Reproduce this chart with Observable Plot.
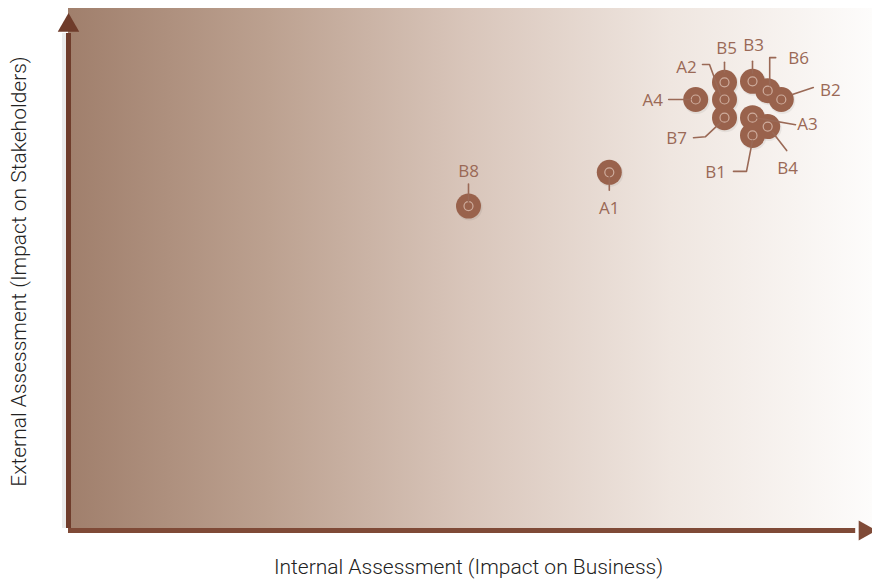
<!DOCTYPE html>
<html><head><meta charset="utf-8">
<script src="https://cdn.jsdelivr.net/npm/d3@7"></script>
<script src="https://cdn.jsdelivr.net/npm/@observablehq/plot@0.6"></script>
<style>body{margin:0;background:#fff} #chart svg{display:block}</style>
</head><body><div id="chart"></div>
<script>
// ---- data ----
const names    = ["B8", "A1", "A4", "A2", "B5", "B7", "B3", "B6", "B2", "A3", "B4", "B1"];
const internal = [5.0, 6.76, 7.84, 8.2, 8.2, 8.2, 8.55, 8.74, 8.91, 8.55, 8.74, 8.55];
const external = [6.2, 6.85, 8.25, 8.25, 8.58, 7.9, 8.6, 8.42, 8.25, 7.9, 7.73, 7.56];
const xLabel = "Internal Assessment (Impact on Business)";
const yLabel = "External Assessment (Impact on Stakeholders)";

// ---- label layout (pixel offsets from each bubble) ----
const labelLayout = {
  B8: {dx: 0,   dy: -35, leader: [[0, -22], [0, -4]]},
  A1: {dx: 0,   dy: 36,  leader: [[0, 4], [0, 18]]},
  A4: {dx: -43, dy: 1,   leader: [[-27, 0], [-5, 0]]},
  A2: {dx: -38, dy: -32, leader: [[-22, -35], [-15, -35], [-4, -5]]},
  B5: {dx: 2,   dy: -34, leader: [[0, -20], [0, -10]]},
  B7: {dx: -48, dy: 21,  leader: [[-31, 20], [-19, 19], [-4, 5]]},
  B3: {dx: 1,   dy: -36, leader: [[0, -20], [0, -8]]},
  B6: {dx: 31,  dy: -32, leader: [[8, -33], [2, -33], [2, -5]]},
  B2: {dx: 49,  dy: -9,  leader: [[32, -12], [11, -5]]},
  A3: {dx: 55,  dy: 7,   leader: [[3, 0], [43, 7]]},
  B4: {dx: 20,  dy: 42,  leader: [[5, 6], [19, 24]]},
  B1: {dx: -37, dy: 37,  leader: [[-19, 36], [-6, 36], [0, 5]]}
};

const W = 872, H = 584, mL = 68, mR = 4, mT = 8, mB = 56;
const xs = d3.scaleLinear([0, 10], [mL, W - mR]);
const ys = d3.scaleLinear([0, 10], [H - mB, mT]);

const points = names.map((n, i) => ({name: n, x: internal[i], y: external[i]}));
const labels = points.map(p => {
  const L = labelLayout[p.name];
  return {name: p.name, x: xs.invert(xs(p.x) + L.dx), y: ys.invert(ys(p.y) + L.dy)};
});
const leaders = points.flatMap(p => labelLayout[p.name].leader.map(([dx, dy]) => ({
  name: p.name, x: xs.invert(xs(p.x) + dx), y: ys.invert(ys(p.y) + dy)
})));

const axisColor = "#6f3c2b";
const xAxisColor = "#7f4a37";
const bubbleColor = "#99624c";
const labelColor = "#9a6956";

const chart = Plot.plot({
  width: W, height: H,
  marginLeft: mL, marginRight: mR, marginTop: mT, marginBottom: mB,
  x: {domain: [0, 10], axis: null},
  y: {domain: [0, 10], axis: null},
  style: {background: "#fff"},
  marks: [
    Plot.rect([0], {x1: 0, x2: xs.invert(W), y1: 0, y2: 10, fill: "url(#bgGrad)"}),
    // axes with soft shadow
    Plot.ruleX([0], {y1: 0, y2: 9.52, stroke: "#000", strokeOpacity: 0.08, strokeWidth: 9, dx: -2}),
    Plot.ruleX([0], {y1: 0, y2: 9.52, stroke: axisColor, strokeWidth: 5}),
    Plot.dot([0], {frameAnchor: "top-left", symbol: "triangle", r: 8, fill: axisColor, dy: 17}),
    Plot.ruleY([0], {x1: 0, x2: 9.84, stroke: xAxisColor, strokeWidth: 5, dy: 2}),
    Plot.dot([0], {frameAnchor: "bottom-right", symbol: "triangle", r: 7.5, rotate: 90, fill: xAxisColor, dx: -4, dy: 2}),
    // bubbles
    Plot.dot(points, {x: "x", y: "y", r: 13, fill: "#000", fillOpacity: 0.06, dx: 1, dy: 1.5}),
    Plot.dot(points, {x: "x", y: "y", r: 12.5, fill: bubbleColor, stroke: "none"}),
    Plot.dot(points, {x: "x", y: "y", r: 4.5, fill: "none", stroke: "#dcbfb2", strokeWidth: 1.2, strokeOpacity: 0.8}),
    // leaders and labels
    Plot.line(leaders, {x: "x", y: "y", z: "name", stroke: labelColor, strokeWidth: 1.6, curve: "linear"}),
    Plot.text(labels, {x: "x", y: "y", text: "name", fill: labelColor, fontSize: 17, fontWeight: 500, fontFamily: "'Open Sans', Lato, sans-serif", textAnchor: "middle", lineAnchor: "middle"}),
    // axis titles
    Plot.text([xLabel], {text: d => d, frameAnchor: "bottom", dy: 45, fontSize: 21, fill: "#222", fontFamily: "Roboto, 'Liberation Sans', sans-serif", fontWeight: 300, textAnchor: "middle"}),
    Plot.text([yLabel], {text: d => d, frameAnchor: "left", dx: -49, dy: 3, rotate: -90, fontSize: 21, fill: "#222", fontFamily: "Roboto, 'Liberation Sans', sans-serif", fontWeight: 300, textAnchor: "middle"})
  ]
});

const defs = d3.select(chart).insert("defs", ":first-child");
const g = defs.append("linearGradient").attr("id", "bgGrad").attr("x1", "0").attr("x2", "1").attr("y1", "0").attr("y2", "0");
[[0, "#a07f6c"], [0.25, "#bca190"], [0.5, "#d9c6bb"], [0.75, "#efe6e0"], [1, "#fdfcfb"]]
  .forEach(([o, c]) => g.append("stop").attr("offset", o).attr("stop-color", c));

document.getElementById("chart").appendChild(chart);
</script>
</body></html>
